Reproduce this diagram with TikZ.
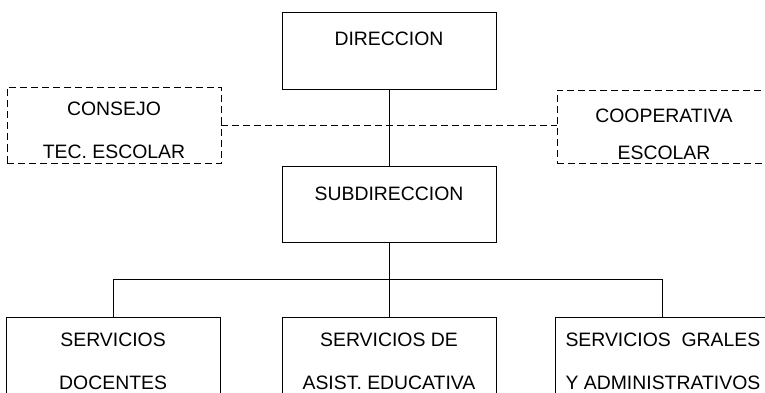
\documentclass[tikz,border=0pt]{standalone}
\usepackage{fontspec}
\setmainfont{Liberation Sans}
\usetikzlibrary{positioning}
\usetikzlibrary{calc}

\begin{document}
\begin{tikzpicture}[x=1pt,y=1pt,line width=0.9pt,node distance=77pt,
    org node/.style={rectangle,draw,minimum width=214pt,inner sep=0pt,align=center,font=\fontsize{19.4}{43}\selectfont},
    aux node/.style={org node,dash pattern=on 7pt off 4pt,line width=0.7pt},
    aux line/.style={dash pattern=on 7pt off 4pt,line width=0.7pt}
    ]
    \useasboundingbox (0,0) rectangle (765,-393);

    \node[org node,text height=34pt,text depth=43pt](dir) at (389,-50.5){DIRECCION};
    \node[org node,text height=34pt,text depth=42pt](sub)[below=of dir]{SUBDIRECCION};
    \node[aux node,text height=71pt,text depth=5pt](con) at (114,-125.5){CONSEJO\\TEC. ESCOLAR};
    \node[aux node,text height=69pt,text depth=4pt](coop) at (664,-126.5){COOPERATIVA\\[-6pt]ESCOLAR};

    \node[org node,text height=72pt,text depth=7pt](ase)[below=74pt of sub]{SERVICIOS DE\\ASIST. EDUCATIVA};
    \node[org node,text height=72pt,text depth=7pt](doc)[left=61pt of ase]{SERVICIOS\\DOCENTES};
    \node[org node,text height=72pt,text depth=7pt](adm)[right=59pt of ase]{SERVICIOS \ GRALES\\Y ADMINISTRATIVOS};

    \coordinate (bus) at ($(sub.south)+(0,-36)$);

    \path
    (dir) edge (sub)
    (con.east) edge[aux line] (con.east -| coop.west)
    (sub.south) edge (ase.north);
    \draw (doc.north) |- (bus) -| (adm.north);
\end{tikzpicture}
\end{document}
